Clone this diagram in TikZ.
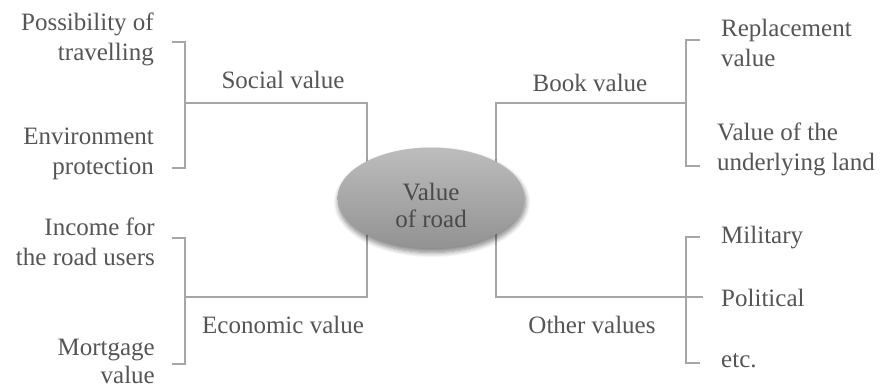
\documentclass[tikz,border=0pt]{standalone}
\usepackage{fontspec}
\setmainfont{Liberation Serif}
\usetikzlibrary{shapes.geometric,shadows.blur,backgrounds}
\definecolor{txt}{HTML}{555555}
\definecolor{hubtxt}{HTML}{4A4A4A}
\definecolor{wire}{HTML}{A6A6A6}
\definecolor{ovtop}{HTML}{BDBDBD}
\definecolor{ovbot}{HTML}{929292}
\begin{document}
\begin{tikzpicture}[x=1pt,y=-1pt,
  every node/.style={font=\fontsize{25}{30}\selectfont, text=txt, inner sep=0pt},
  lbl/.style={align=center},
  leftitem/.style={align=right, anchor=east},
  rightitem/.style={align=left, anchor=west},
  conn/.style={draw=wire, line width=1.3pt},
  hub/.style={ellipse, minimum width=187pt, minimum height=101pt,
    top color=ovtop, bottom color=ovbot},
  hubtext/.style={align=center, text=hubtxt, font=\fontsize{25}{27}\selectfont},
  glow/.style={blur shadow={shadow xshift=1pt, shadow yshift=-4pt,
    shadow blur steps=8, shadow blur radius=5pt, shadow opacity=50}}]
\useasboundingbox (0,0) rectangle (880,387);

% central node
\node[hub, glow] (c) at (431,198) {};
\node[hubtext] (ct) at (431,205) {Value\\of road};

% branch labels
\node[lbl] (soc) at (283,80) {Social value};
\node[lbl] (eco) at (283,325) {Economic value};
\node[lbl] (book) at (590,83) {Book value};
\node[lbl] (oth) at (592,325) {Other values};

% leaf items
\node[leftitem] (trav) at (154,39) {Possibility of\\travelling};
\node[leftitem] (env)  at (154,154) {Environment\\protection};
\node[leftitem] (inc)  at (155,242) {Income for\\the road users};
\node[leftitem, font=\fontsize{25}{28}\selectfont] (mort) at (155,361) {Mortgage\\value};
\node[rightitem] (repl) at (721,43) {Replacement\\value};
\node[rightitem] (land) at (717,149) {Value of the\\underlying land};
\node[rightitem] (mil) at (721,238) {Military};
\node[rightitem] (pol) at (721,298) {Political};
\node[rightitem] (etc) at (721,361) {etc.};

% bracket joints and tick ends
\coordinate (sj) at (185,103);
\coordinate (s1) at (172,42);
\coordinate (s2) at (172,168);
\coordinate (ej) at (185,297);
\coordinate (e1) at (172,238);
\coordinate (e2) at (172,364);
\coordinate (bj) at (686,103);
\coordinate (b1) at (700,40);
\coordinate (b2) at (700,166);
\coordinate (oj) at (686,297);
\coordinate (o1) at (700,237);
\coordinate (o2) at (700,363);
\coordinate (pt) at (703,297);

% brackets
\draw[conn] (s1) -| (sj) |- (s2);
\draw[conn] (e1) -| (ej) |- (e2);
\draw[conn] (b1) -| (bj) |- (b2);
\draw[conn] (o1) -| (oj) |- (o2);

% stems from the central node (hidden under it)
\begin{scope}[on background layer]
\draw[conn] (sj) -| ([xshift=-64pt]c.center);
\draw[conn] (ej) -| ([xshift=-64pt]c.center);
\draw[conn] (bj) -| ([xshift=65pt]c.center);
\draw[conn] (pt) -| ([xshift=65pt]c.center);
\end{scope}
\end{tikzpicture}
\end{document}
